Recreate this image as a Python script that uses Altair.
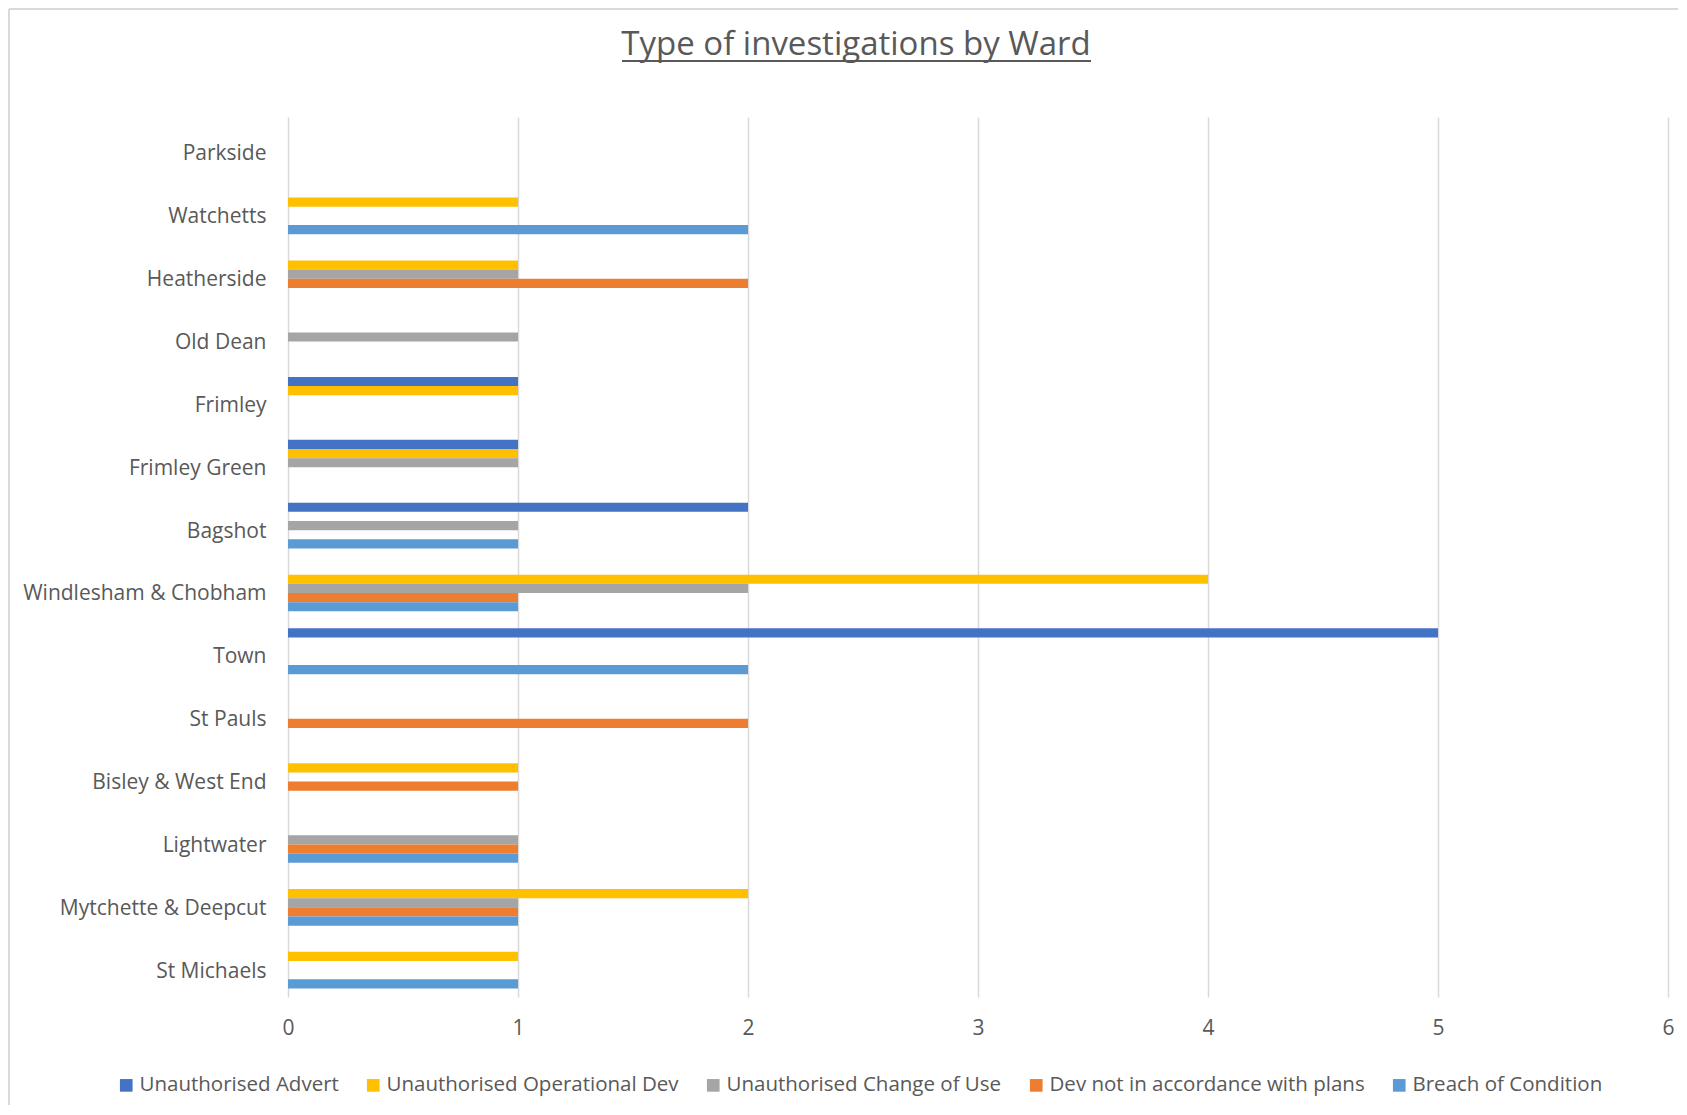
import altair as alt
import pandas as pd

wards = ["Parkside", "Watchetts", "Heatherside", "Old Dean", "Frimley",
         "Frimley Green", "Bagshot", "Windlesham & Chobham", "Town",
         "St Pauls", "Bisley & West End", "Lightwater",
         "Mytchette & Deepcut", "St Michaels"]

series = ["Unauthorised Advert", "Unauthorised Operational Dev",
          "Unauthorised Change of Use", "Dev not in accordance with plans",
          "Breach of Condition"]
colors = ["#4472C4", "#FFC000", "#A5A5A5", "#ED7D31", "#5B9BD5"]

advert = [0, 0, 0, 0, 1, 1, 2, 0, 5, 0, 0, 0, 0, 0]
op_dev = [0, 1, 1, 0, 1, 1, 0, 4, 0, 0, 1, 0, 2, 1]
change_use = [0, 0, 1, 1, 0, 1, 1, 2, 0, 0, 0, 1, 1, 0]
dev_not_plans = [0, 0, 2, 0, 0, 0, 0, 1, 0, 2, 1, 1, 1, 0]
breach = [0, 2, 0, 0, 0, 0, 1, 1, 2, 0, 0, 1, 1, 1]

x_ticks = [0, 1, 2, 3, 4, 5, 6]

rows = []
for name, vals in zip(series, [advert, op_dev, change_use, dev_not_plans, breach]):
    for w, v in zip(wards, vals):
        if v > 0:
            rows.append({"ward": w, "series": name, "value": v})
df = pd.DataFrame(rows)

FONT = "Open Sans"
TXT = "#595959"

bars = alt.Chart(df).mark_bar().encode(
    x=alt.X("value:Q",
            scale=alt.Scale(domain=[0, 6], nice=False),
            axis=alt.Axis(values=x_ticks, title=None, grid=True,
                          gridColor="#D9D9D9", gridWidth=1.5,
                          domain=False, ticks=False, labelPadding=20,
                          labelFlush=False,
                          format="d", labelFont=FONT, labelFontSize=21,
                          labelColor=TXT)),
    y=alt.Y("ward:N", sort=wards,
            scale=alt.Scale(domain=wards, paddingInner=0.27,
                            paddingOuter=0.135),
            axis=alt.Axis(title=None, domain=False, ticks=False,
                          labelPadding=22, labelLimit=400, labelOffset=6,
                          labelFont=FONT, labelFontSize=21,
                          labelColor=TXT)),
    yOffset=alt.YOffset("series:N", sort=series,
                        scale=alt.Scale(domain=series, paddingInner=0,
                                        paddingOuter=0)),
    color=alt.Color("series:N", sort=series,
                    scale=alt.Scale(domain=series, range=colors),
                    legend=alt.Legend(title=None, orient="none",
                                      direction="horizontal",
                                      legendX=-172, legendY=958,
                                      symbolType="square", symbolSize=160,
                                      symbolStrokeWidth=0, labelOffset=3,
                                      columnPadding=24, padding=0,
                                      labelFontSize=20.5, labelFont=FONT,
                                      labelColor=TXT, labelLimit=500)),
)

one = alt.Data(values=[{"k": 1}])

underline = alt.Chart(one).mark_rule(color=TXT, strokeWidth=2).encode(
    x=alt.value(334), x2=alt.value(803), y=alt.value(-56))

border_top = alt.Chart(one).mark_rule(color="#D9D9D9", strokeWidth=2).encode(
    x=alt.value(-279), x2=alt.value(1400), y=alt.value(-108))
border_left = alt.Chart(one).mark_rule(color="#D9D9D9", strokeWidth=2).encode(
    x=alt.value(-279), y=alt.value(-108), y2=alt.value(1000))

chart = alt.layer(border_top, border_left, bars, underline).properties(
    width=1380, height=880,
    autosize=alt.AutoSizeParams(type="none"),
    padding={"left": 280, "top": 109, "right": 10, "bottom": 108},
    background="white",
    title=alt.TitleParams("Type of investigations by Ward", font=FONT,
                          fontSize=33, fontWeight="normal", color=TXT,
                          anchor="middle", frame="group", dx=-122,
                          offset=-54),
).configure_view(stroke=None)

chart.save("out.html", embed_options={"renderer": "svg", "actions": False})
